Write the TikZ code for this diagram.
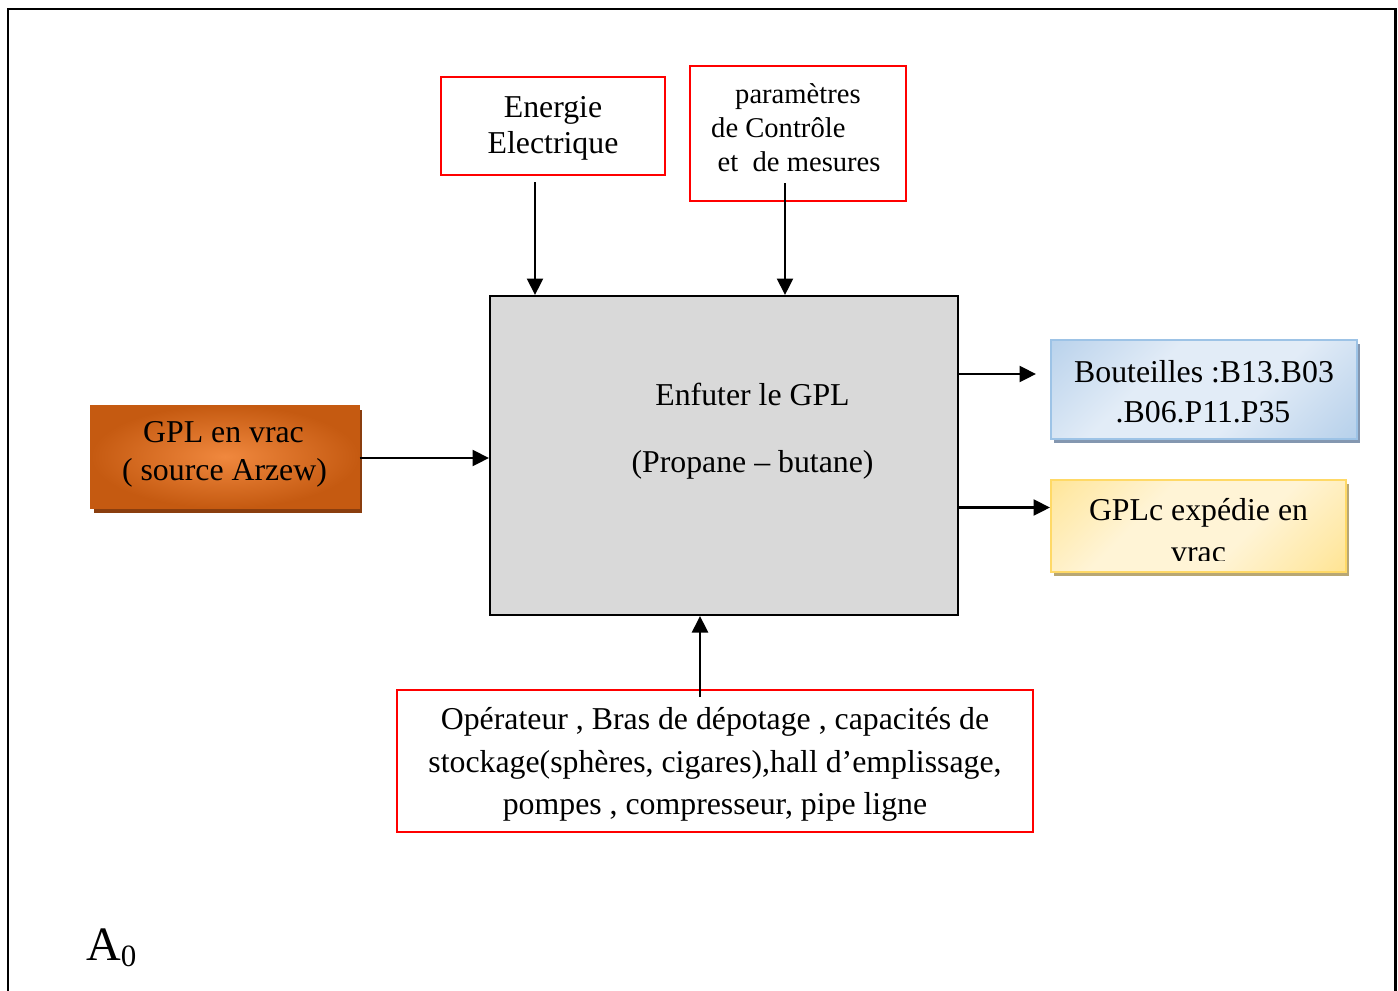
\documentclass[tikz,border=0pt]{standalone}
\usepackage{fontspec}
\setmainfont{Liberation Serif}
\usetikzlibrary{arrows.meta,shadows}

\definecolor{boxred}{HTML}{FF0000}
\definecolor{corefill}{HTML}{D9D9D9}
\definecolor{orangeIn}{HTML}{F0883E}
\definecolor{orangeOut}{HTML}{C55A11}
\definecolor{orangeShadow}{HTML}{8A3E0E}
\definecolor{blueLight}{HTML}{E2ECF7}
\definecolor{blueMid}{HTML}{C3D8EE}
\definecolor{blueDark}{HTML}{9CC2E5}
\definecolor{blueEdge}{HTML}{9DC3E6}
\definecolor{blueShadow}{HTML}{8497B0}
\definecolor{yellowLight}{HTML}{FFF4D6}
\definecolor{yellowMid}{HTML}{FFE9A8}
\definecolor{yellowDark}{HTML}{FFD966}
\definecolor{yellowEdge}{HTML}{FFD966}
\definecolor{yellowShadow}{HTML}{B8A774}

% diagonal light-band gradients for the output boxes
\pgfdeclareverticalshading{bluegrad}{100bp}{%
  color(0bp)=(blueDark); color(22bp)=(blueMid); color(40bp)=(blueLight);
  color(62bp)=(blueLight); color(80bp)=(blueMid); color(100bp)=(blueDark)}
\pgfdeclareverticalshading{yellowgrad}{100bp}{%
  color(0bp)=(yellowDark); color(22bp)=(yellowMid); color(40bp)=(yellowLight);
  color(62bp)=(yellowLight); color(80bp)=(yellowMid); color(100bp)=(yellowDark)}

\newcommand\fsMain{\fontsize{31.8bp}{38bp}\selectfont}
\newcommand\fsParam{\fontsize{28.6bp}{34bp}\selectfont}
\newcommand\fsBig{\fontsize{48bp}{52bp}\selectfont}
\newcommand\fsSub{\fontsize{31bp}{34bp}\selectfont}

\tikzset{
  plainbox/.style={rectangle, inner sep=0pt},
  redbox/.style={plainbox, draw=boxred, line width=2bp},
  corebox/.style={plainbox, draw=black, line width=2bp, fill=corefill},
  orangebox/.style={plainbox, draw=orangeOut, line width=1bp,
    inner color=orangeIn, outer color=orangeOut,
    general shadow={fill=orangeShadow, shadow xshift=3bp, shadow yshift=-5bp}},
  bluebox/.style={plainbox, draw=blueEdge, line width=2bp,
    shading=bluegrad, shading angle=45,
    general shadow={fill=blueShadow, shadow xshift=3bp, shadow yshift=-4bp}},
  yellowbox/.style={plainbox, draw=yellowEdge, line width=2bp,
    shading=yellowgrad, shading angle=45,
    general shadow={fill=yellowShadow, shadow xshift=3bp, shadow yshift=-4bp}},
  txt/.style={anchor=base, inner sep=0pt, font=\fsMain},
  ptxt/.style={anchor=base west, inner sep=0pt, font=\fsParam},
  arr/.style={line width=2.2bp, -{Triangle[length=16.5bp,width=16bp]}},
  frame/.style={line width=2.8bp, black}
}

\begin{document}
\begin{tikzpicture}[x=1bp, y=-1bp]
\useasboundingbox (0,0) rectangle (1398,990);

% outer frame (open at the bottom of the sheet)
\draw[frame] (8,996) -- (8,9) -- (1395.5,9) -- (1395.5,996);

% boxes
\node[redbox, minimum width=224bp, minimum height=98bp] (energie) at (553,126) {};
\node[redbox, minimum width=216bp, minimum height=135bp] (param) at (798,133.5) {};
\node[corebox, minimum width=468bp, minimum height=319bp] (core) at (724,455.5) {};
\node[orangebox, minimum width=268bp, minimum height=103bp] (source) at (225,456.5) {};
\node[bluebox, minimum width=306bp, minimum height=99bp] (bottles) at (1204,389.5) {};
\node[yellowbox, minimum width=295bp, minimum height=92bp] (bulk) at (1198.5,526) {};
\node[redbox, minimum width=636bp, minimum height=142bp] (means) at (715,761) {};

% texts
\node[txt] (en1) at (553,117) {Energie};
\node[txt] (en2) at (553,153) {Electrique};

\node[ptxt] (pa1) at (735,103) {paramètres};
\node[ptxt] (pa2) at (711,137) {de Contrôle};
\node[ptxt] (pa3) at (717.5,171) {et\ \ de mesures};

\node[txt] (co1) at (752.5,405) {Enfuter le GPL};
\node[txt] (co2) at (752.5,472) {(Propane – butane)};

\node[txt] (so1) at (223.5,442) {GPL en vrac};
\node[txt] (so2) at (224.5,480) {( source Arzew)};

\node[txt] (bo1) at (1204,382) {Bouteilles :B13.B03};
\node[txt] (bo2) at (1203,422) {.B06.P11.P35};

\node[txt] (bu1) at (1198.5,520.5) {GPLc expédie en};
\begin{scope}
  \clip (1060,530) rectangle (1340,560.5);
  \node[txt] (bu2) at (1198.5,562) {vrac};
\end{scope}

\node[txt] (me1) at (715,729.5) {Opérateur , Bras de dépotage , capacités de};
\node[txt] (me2) at (715,772) {stockage(sphères, cigares),hall d’emplissage,};
\node[txt] (me3) at (715,814) {pompes , compresseur, pipe ligne};

\node[anchor=base west, inner sep=0pt, font=\fsBig] (level) at (86,960)
  {A\raisebox{-6bp}{\fsSub 0}};

% connectors
\path ([shift={(-18,6)}]energie.south) coordinate (enOut);
\draw[arr] (enOut) -- (enOut |- core.north);

\path ([shift={(-13,-19)}]param.south) coordinate (paOut);
\draw[arr] (paOut) -- (paOut |- core.north);

\path ([yshift=-1.5bp]source.east) coordinate (soOut);
\draw[arr] (soOut) -- (soOut -| core.west);

\path ([yshift=81.5bp]core.east) coordinate (boOut);
\draw[arr] (boOut) -- ([xshift=-14bp]boOut -| bottles.west);

\path ([yshift=-52bp]core.east) coordinate (buOut);
\draw[arr] (buOut) -- (buOut -| bulk.west);

\path ([shift={(-15,8)}]means.north) coordinate (meOut);
\draw[arr] (meOut) -- (meOut |- core.south);
\end{tikzpicture}
\end{document}
